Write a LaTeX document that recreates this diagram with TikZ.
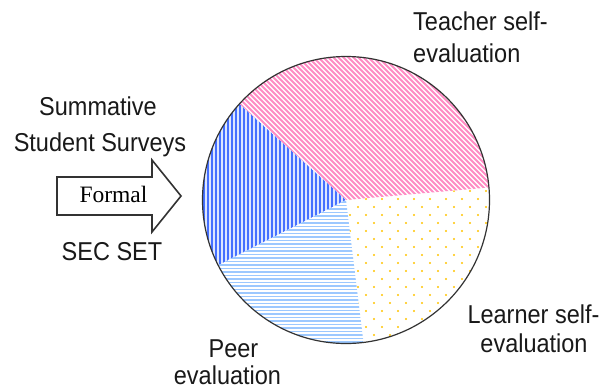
\documentclass[tikz,border=0pt]{standalone}
\usepackage{graphicx}
\usepackage{fontspec}
\setmainfont{Liberation Sans}
\newfontfamily\serifx{Liberation Serif}
\newcommand\talltext[1]{\scalebox{1}[1.1]{#1}}
\definecolor{pinkx}{HTML}{FF8CC4}
\definecolor{bluedark}{HTML}{4570FF}
\definecolor{bluepale}{HTML}{DCE6FF}
\definecolor{bluelight}{HTML}{9CC8FF}
\definecolor{goldx}{HTML}{FFC400}
\begin{document}
\begin{tikzpicture}[x=1bp,y=1bp,
  lbl/.style={font=\fontsize{23.5bp}{28bp}\selectfont, inner sep=0pt, text=black!90},
  serlbl/.style={font=\serifx\fontsize{23.5bp}{28bp}\selectfont, inner sep=0pt, text=black},
  outline/.style={draw=black!80, line width=1.2bp},
  arrowshape/.style={draw=black!80, line width=1.6bp, fill=white, line join=miter},
  pinkline/.style={draw=pinkx, line width=2bp},
  vline/.style={draw=bluedark, line width=2bp},
  hline/.style={draw=bluelight, line width=1.8bp},
  dotx/.style={fill=goldx},
]
\useasboundingbox (0,0) rectangle (605,389);
\fill[white] (0,0) rectangle (605,389);
\coordinate (C) at (346,189);
\def\R{143.5}
% Teacher self-evaluation (pink diagonal)
\begin{scope}
  \clip (C) -- ++(5:\R) arc[start angle=5,end angle=138,radius=\R] -- cycle;
  \foreach \c in {240,245,...,830} \draw[pinkline] ({\c-389},389) -- (\c,0);
\end{scope}
% Summative (dark blue vertical)
\begin{scope}
  \clip (C) -- ++(138:\R) arc[start angle=138,end angle=207,radius=\R] -- cycle;
  \fill[bluepale] (190,40) rectangle (360,340);
  \foreach \x in {200,204,...,352} \draw[vline] (\x,40) -- (\x,340);
\end{scope}
% Peer (light blue horizontal)
\begin{scope}
  \clip (C) -- ++(207:\R) arc[start angle=207,end angle=277,radius=\R] -- cycle;
  \foreach \y in {40,43.5,...,200} \draw[hline] (190,\y) -- (370,\y);
\end{scope}
% Learner (yellow dots)
\begin{scope}
  \clip (C) -- ++(277:\R) arc[start angle=277,end angle=365,radius=\R] -- cycle;
  \foreach \j in {0,...,20} \foreach \i in {0,...,10}
    \fill[dotx] ({342+16*\i+8*mod(\j,2)},{38+8*\j}) circle[radius=1.2];
\end{scope}
\draw[outline] (C) circle[radius=\R];
% Arrow
\draw[arrowshape] (57,212) -- (152,212) -- (152,229) -- (181,193) -- (152,157) -- (152,174) -- (57,174) -- cycle;
\node[serlbl, anchor=base] (formal) at (113.5,187) {Formal};
% Labels
\node[lbl, anchor=base] (sum1) at (98,274) {\talltext{Summative}};
\node[lbl, anchor=base] (sum2) at (100,238) {\talltext{Student Surveys}};
\node[lbl, anchor=base] (sec) at (112,129) {\talltext{SEC SET}};
\node[lbl, anchor=base west] (teach1) at (413,359) {\talltext{Teacher self-}};
\node[lbl, anchor=base west] (teach2) at (413,327) {\talltext{evaluation}};
\node[lbl, anchor=base] (learn1) at (533.5,66) {\talltext{Learner self-}};
\node[lbl, anchor=base] (learn2) at (534,37) {\talltext{evaluation}};
\node[lbl, anchor=base] (peer1) at (233.5,32) {\talltext{Peer}};
\node[lbl, anchor=base] (peer2) at (227.5,5) {\talltext{evaluation}};
\end{tikzpicture}
\end{document}
